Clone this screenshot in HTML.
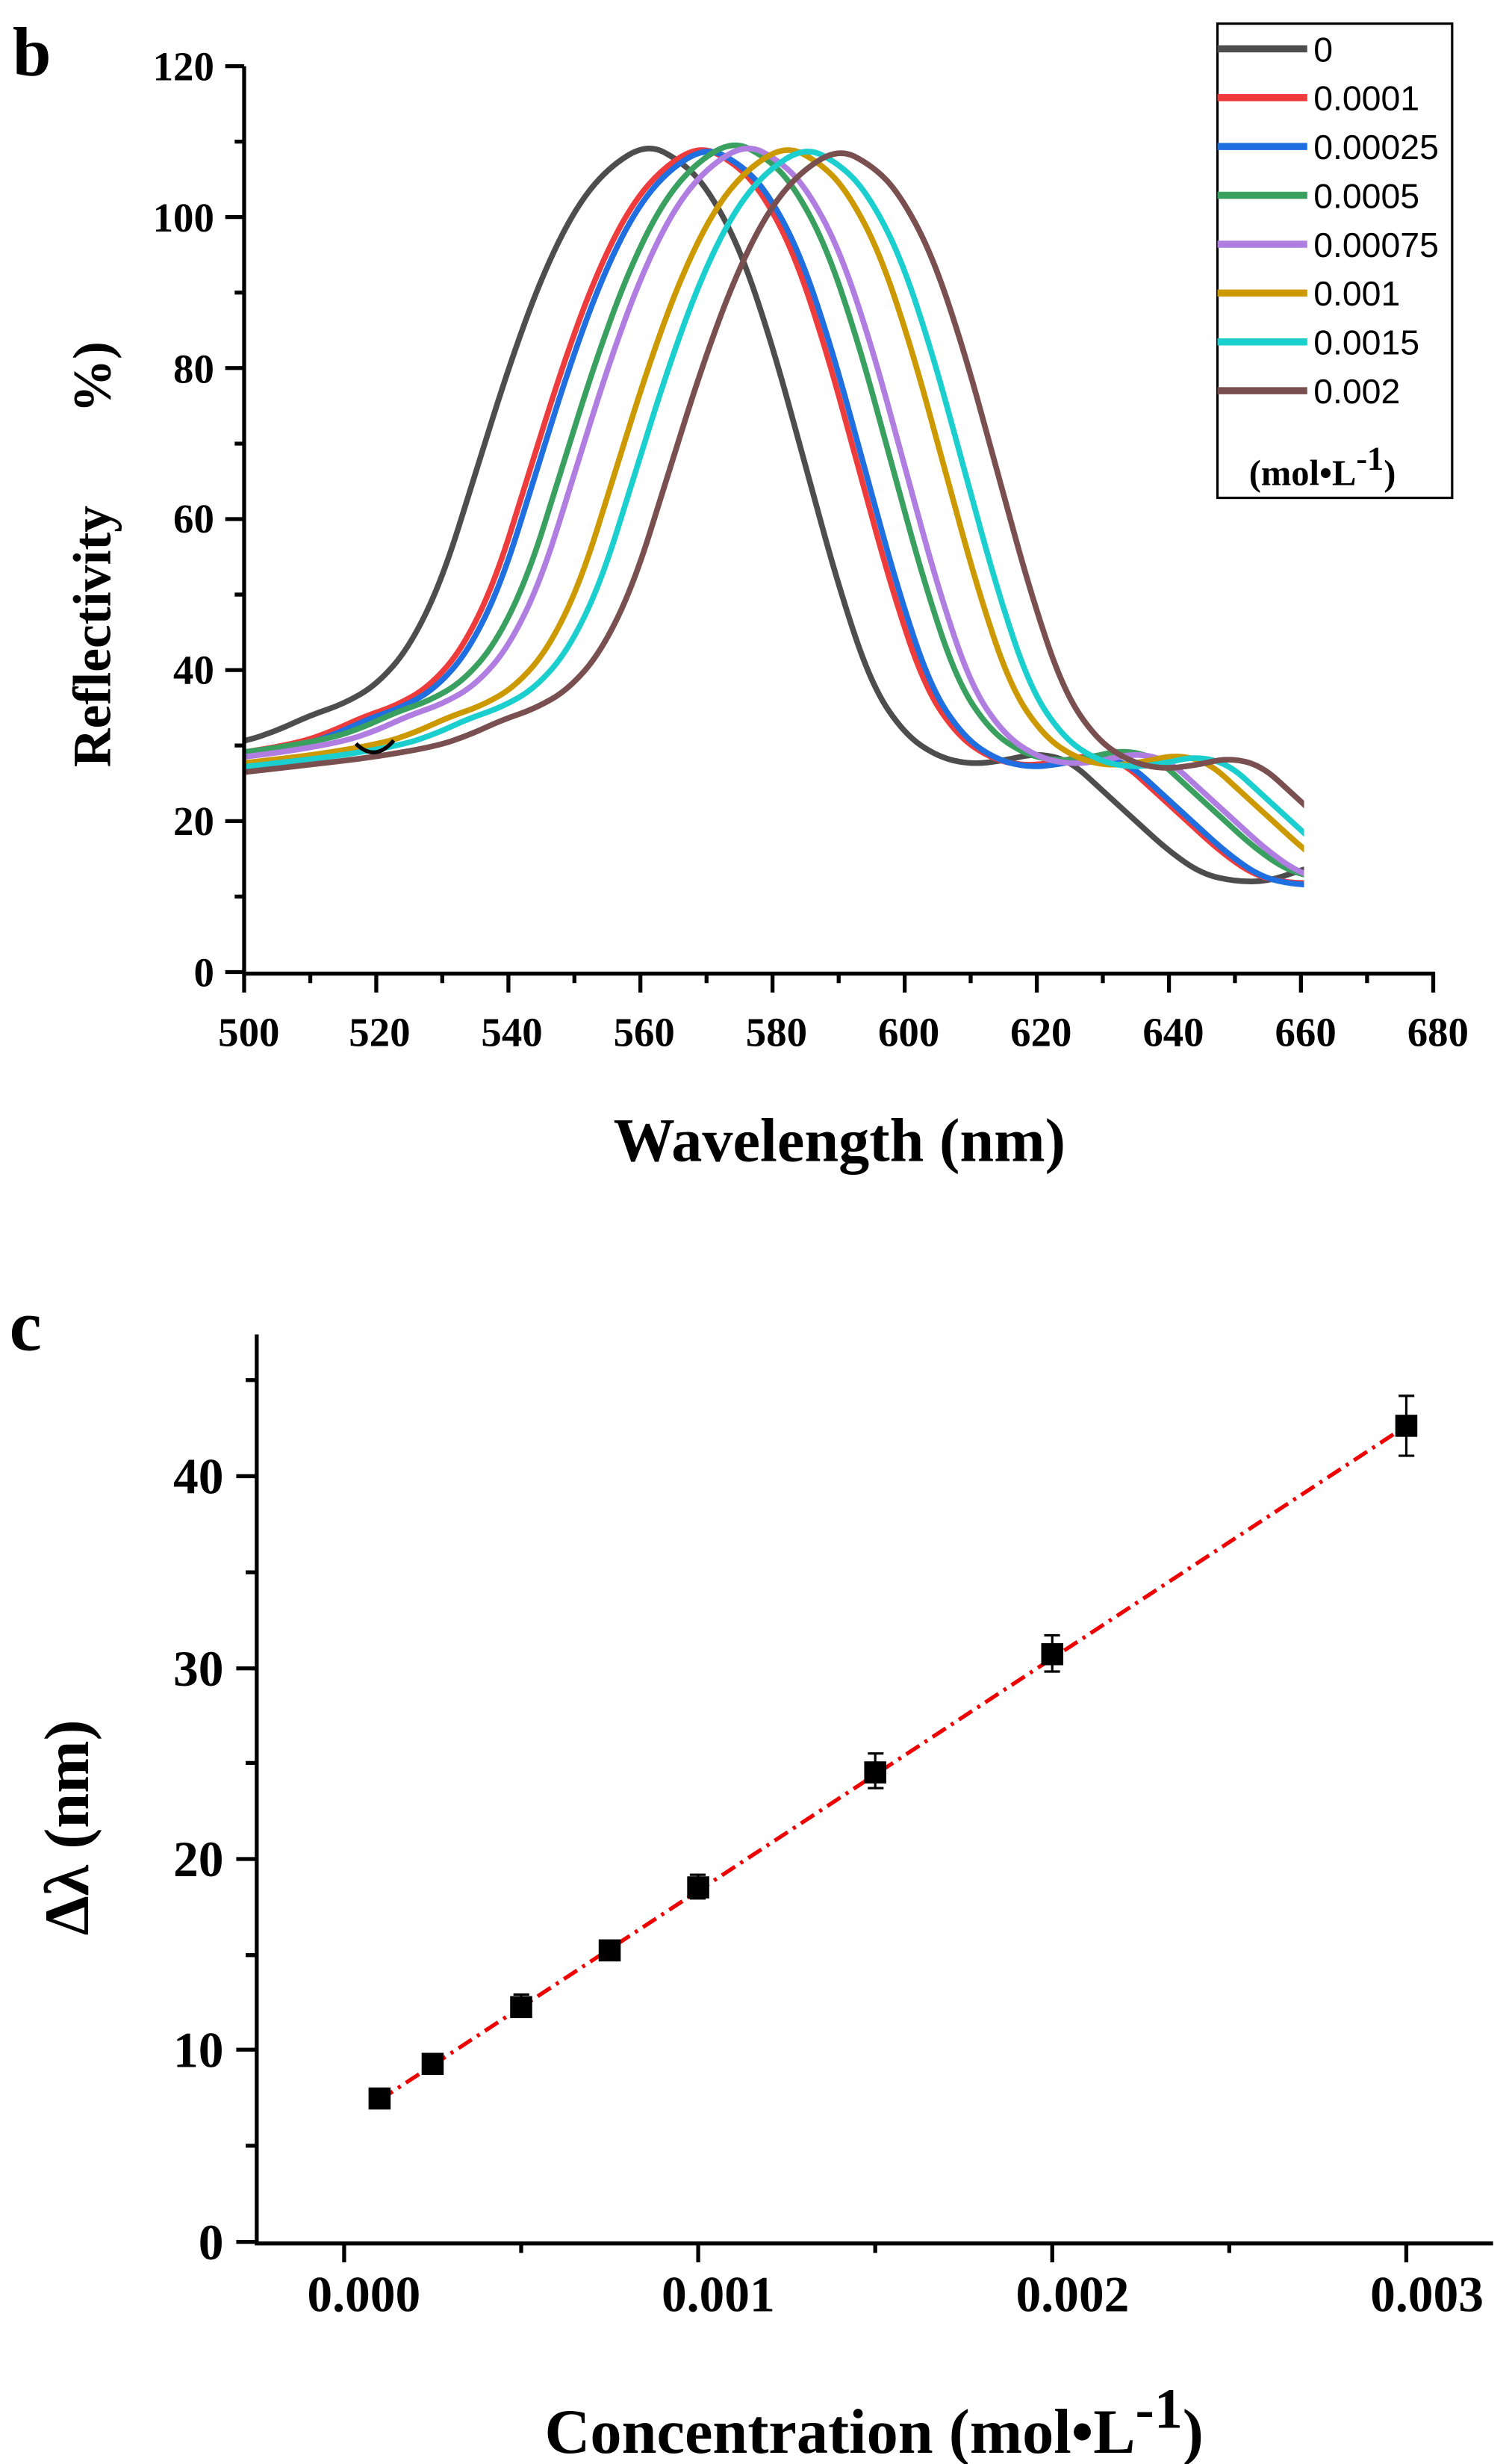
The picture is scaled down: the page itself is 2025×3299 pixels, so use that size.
<!DOCTYPE html>
<html><head><meta charset="utf-8"><style>
html,body{margin:0;padding:0;background:#fff}
svg{display:block}
text{font-family:"Liberation Serif",serif;font-weight:bold;fill:#000}
text.s{font-family:"Liberation Sans",sans-serif;font-weight:normal}
</style></head><body>
<svg width="2025" height="3299" viewBox="0 0 960 1564" xmlns="http://www.w3.org/2000/svg">
<defs>
<clipPath id="cb"><rect x="155" y="0" width="673" height="617"/></clipPath>
<path id="g" fill="none" stroke-width="3.6" stroke-linejoin="round" stroke-linecap="round" d="M29.2,487.6 Q71.1,482.8 92.1,480.4 Q113.1,478 134.05,474.4 Q155,470.8 165.5,467.25 Q176,463.7 186.45,458.9 Q196.9,454.1 207.4,450.5 Q217.9,446.9 228.4,440.9 Q238.9,434.9 249.4,422.95 Q259.9,411 270.35,389.4 Q280.8,367.8 291.3,334.25 Q301.8,300.7 312.3,267.15 Q322.8,233.6 333.25,204.85 Q343.7,176.1 354.2,154.55 Q364.7,133 375.2,119.85 Q385.7,106.7 398.25,98.9 Q410.8,91 421.3,96.5 Q431.8,101.9 440.2,110.25 Q448.6,118.6 459.1,137.8 Q469.6,157 480.05,188.15 Q490.5,219.3 501,257.6 Q511.5,295.9 522,334.25 Q532.5,372.6 542.95,403.75 Q553.4,434.9 563.9,450.5 Q574.4,466.1 584.9,473.25 Q595.4,480.4 605.85,482.8 Q616.3,485.2 626.8,484 Q637.3,482.8 647.8,480.4 Q658.3,478 668.8,480.4 Q679.3,482.8 689.75,492.4 Q700.2,502 710.7,511.6 Q721.2,521.2 731.7,530.75 Q742.2,540.3 752.65,547.5 Q763.1,554.7 773.6,557.1 Q784.1,559.5 794.6,559.5 Q805.1,559.5 815.55,555.9 Q826,552.3 847,546.3 Q868,540.3 889,530.75 Q910,521.2 930.95,511.6 Q951.9,502 972.9,494.8 L993.9,487.6"/>
</defs>
<text x="8" y="48" font-size="44">b</text>
<g clip-path="url(#cb)">
<use href="#g" stroke="#4d4d4d"/>
<use href="#g" stroke="#ee3b3b" transform="translate(33.6,1)"/>
<use href="#g" stroke="#1f6fe0" transform="translate(37.7,2)"/>
<use href="#g" stroke="#3aa05f" transform="translate(54.5,-2)"/>
<use href="#g" stroke="#b07ee0" transform="translate(62.9,0)"/>
<use href="#g" stroke="#cc9a00" transform="translate(88.1,1)"/>
<use href="#g" stroke="#1ccfcf" transform="translate(100.7,2)"/>
<use href="#g" stroke="#7a4f4f" transform="translate(121.6,3)"/>
</g>
<path d="M226,472 Q238,484 250,470" fill="none" stroke="#000" stroke-width="2.5"/>
<g stroke="#000" stroke-width="2.5" fill="none">
<path d="M155,42 V618 H911"/>
<path d="M143,42H155M143,137.8H155M143,233.6H155M143,329.5H155M143,425.3H155M143,521.2H155M143,617H155"/>
<path d="M149,89.9H155M149,185.7H155M149,281.6H155M149,377.4H155M149,473.2H155M149,569.1H155"/>
<path d="M155,617V630M238.9,617V630M322.8,617V630M406.6,617V630M490.5,617V630M574.4,617V630M658.3,617V630M742.2,617V630M826,617V630M910,617V630"/>
<path d="M197,617V624M280.8,617V624M364.7,617V624M448.6,617V624M532.5,617V624M616.3,617V624M700.2,617V624M784.1,617V624M868,617V624"/>
</g>
<g font-size="26" text-anchor="end">
<text x="136" y="51">120</text><text x="136" y="147">100</text><text x="136" y="243">80</text><text x="136" y="338">60</text><text x="136" y="434">40</text><text x="136" y="530">20</text><text x="136" y="626">0</text>
</g>
<g font-size="26" text-anchor="middle">
<text x="158" y="664">500</text><text x="241" y="664">520</text><text x="325" y="664">540</text><text x="409" y="664">560</text><text x="493" y="664">580</text><text x="577" y="664">600</text><text x="661" y="664">620</text><text x="745" y="664">640</text><text x="829" y="664">660</text><text x="913" y="664">680</text>
</g>
<text transform="translate(70,487) rotate(-90)" font-size="34">Reflectivity</text>
<text transform="translate(70,262) rotate(-90)" font-size="34">%)</text>
<text x="533" y="737" font-size="39" text-anchor="middle">Wavelength (nm)</text>
<rect x="773" y="15" width="149" height="301" fill="#fff" stroke="#000" stroke-width="1.5"/>
<g stroke-width="4.5">
<line x1="773" y1="31" x2="830" y2="31" stroke="#4d4d4d"/>
<line x1="773" y1="62" x2="830" y2="62" stroke="#ee3b3b"/>
<line x1="773" y1="93" x2="830" y2="93" stroke="#1f6fe0"/>
<line x1="773" y1="124" x2="830" y2="124" stroke="#3aa05f"/>
<line x1="773" y1="155" x2="830" y2="155" stroke="#b07ee0"/>
<line x1="773" y1="186" x2="830" y2="186" stroke="#cc9a00"/>
<line x1="773" y1="217" x2="830" y2="217" stroke="#1ccfcf"/>
<line x1="773" y1="248" x2="830" y2="248" stroke="#7a4f4f"/>
</g>
<g font-size="22">
<text class="s" x="834" y="39">0</text>
<text class="s" x="834" y="70">0.0001</text>
<text class="s" x="834" y="101">0.00025</text>
<text class="s" x="834" y="132">0.0005</text>
<text class="s" x="834" y="163">0.00075</text>
<text class="s" x="834" y="194">0.001</text>
<text class="s" x="834" y="225">0.0015</text>
<text class="s" x="834" y="256">0.002</text>
</g>
<text x="793" y="308" font-size="23">(mol•L<tspan dy="-10" font-size="21">-1</tspan><tspan dy="10">)</tspan></text>

<text x="6" y="857" font-size="46">c</text>
<g stroke="#000" stroke-width="2.5" fill="none">
<path d="M163,847 V1424 H948"/>
<path d="M150,937H163M150,1059H163M150,1180H163M150,1301H163M150,1423H163"/>
<path d="M156,876H163M156,998H163M156,1119H163M156,1241H163M156,1362H163"/>
<path d="M218.5,1423V1436M443.3,1423V1436M668.1,1423V1436M892.9,1423V1436"/>
<path d="M330.9,1423V1430M555.7,1423V1430M780.5,1423V1430"/>
</g>
<g font-size="32" text-anchor="end">
<text x="142" y="948">40</text><text x="142" y="1070">30</text><text x="142" y="1191">20</text><text x="142" y="1312">10</text><text x="142" y="1434">0</text>
</g>
<g font-size="32" text-anchor="middle">
<text x="231" y="1467">0.000</text><text x="456" y="1467">0.001</text><text x="681" y="1467">0.002</text><text x="906" y="1467">0.003</text>
</g>
<text transform="translate(56,1160) rotate(-90)" font-size="40" text-anchor="middle">Δλ (nm)</text>
<text x="555" y="1557" font-size="40" text-anchor="middle">Concentration (mol•L<tspan dy="-16" font-size="36">-1</tspan><tspan dy="16">)</tspan></text>
<line x1="241" y1="1333" x2="893" y2="905" stroke="#e00" stroke-width="2.5" stroke-dasharray="10,4,2,4"/>
<g stroke="#000" stroke-width="1.5" fill="none">
<path d="M241,1327V1337M236,1327H246M236,1337H246"/>
<path d="M274.7,1305V1313M270,1305H280M270,1313H280"/>
<path d="M330.9,1266V1280M326,1266H336M326,1280H336"/>
<path d="M387.1,1234V1242M382,1234H392M382,1242H392"/>
<path d="M443.3,1190V1205M438,1190H448M438,1205H448"/>
<path d="M555.7,1113V1135M551,1113H561M551,1135H561"/>
<path d="M668.1,1038V1061M663,1038H673M663,1061H673"/>
<path d="M892.9,886V924M888,886H898M888,924H898"/>
</g>
<g fill="#000">
<rect x="234" y="1325" width="14" height="14"/>
<rect x="267.7" y="1303" width="14" height="14"/>
<rect x="323.9" y="1267" width="14" height="14"/>
<rect x="380.1" y="1231" width="14" height="14"/>
<rect x="436.3" y="1191" width="14" height="14"/>
<rect x="548.7" y="1118" width="14" height="14"/>
<rect x="661.1" y="1043" width="14" height="14"/>
<rect x="885.9" y="898" width="14" height="14"/>
</g>
</svg>
</body></html>
